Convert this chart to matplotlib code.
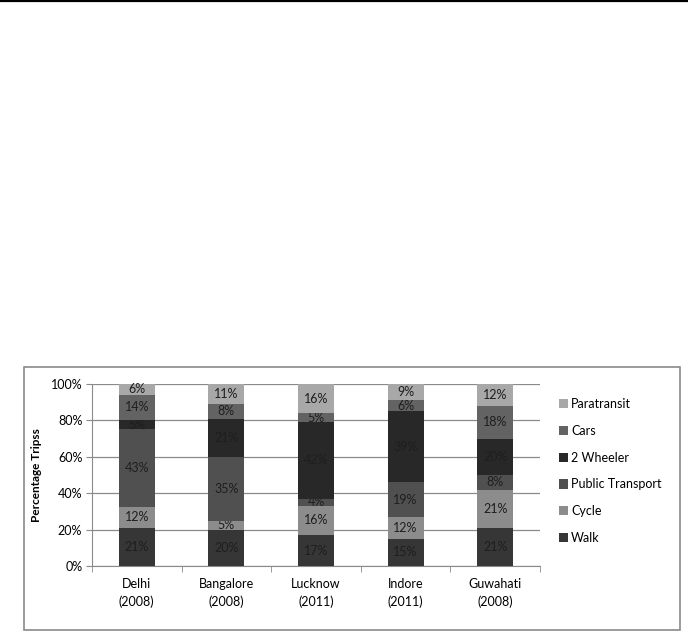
import numpy as np
import matplotlib
matplotlib.use("Agg")
import matplotlib.pyplot as plt
from matplotlib.patches import Rectangle
from matplotlib.lines import Line2D

plt.rcParams['font.family'] = ['Lato', 'DejaVu Sans']

# Data
cities = ['Delhi\n(2008)', 'Bangalore\n(2008)', 'Lucknow\n(2011)', 'Indore\n(2011)', 'Guwahati\n(2008)']
modes = ['Walk', 'Cycle', 'Public Transport', '2 Wheeler', 'Cars', 'Paratransit']
walk = [21, 20, 17, 15, 21]
cycle = [12, 5, 16, 12, 21]
public_transport = [43, 35, 4, 19, 8]
two_wheeler = [5, 21, 42, 39, 20]
cars = [14, 8, 5, 6, 18]
paratransit = [6, 11, 16, 9, 12]
colors = ['#363636', '#8c8c8c', '#505050', '#282828', '#636363', '#a8a8a8']

series = [walk, cycle, public_transport, two_wheeler, cars, paratransit]
vals = np.array(series, dtype=float)
shares = vals / vals.sum(axis=0) * 100  # 100% stacked, like the original

fig = plt.figure(figsize=(6.88, 6.38), dpi=100)

# page rule on top and chart frame
fig.add_artist(Line2D([0, 1], [0.9992, 0.9992], transform=fig.transFigure, color='black', lw=1.6))
fig.add_artist(Rectangle((24 / 688, 8 / 638), 656 / 688, 263 / 638, transform=fig.transFigure,
                         fill=False, edgecolor='#8a8a8a', lw=1.2))

ax = fig.add_axes([92 / 688, 72 / 638, 448 / 688, 182 / 638])
x = np.arange(len(cities))
bottom = np.zeros(len(cities))
handles = []
for i, mode in enumerate(modes):
    bars = ax.bar(x, shares[i], 0.4, bottom=bottom, color=colors[i], label=mode, zorder=3)
    ax.bar_label(bars, labels=['%d%%' % v for v in series[i]], label_type='center',
                 fontsize=9, color='#1e1e1e')
    bottom += shares[i]
    handles.append(bars)

ax.set_xlim(-0.5, len(cities) - 0.5)
ax.set_ylim(0, 100)
ax.set_yticks(range(0, 101, 20))
ax.set_yticklabels(['%d%%' % t for t in range(0, 101, 20)], fontsize=9)
ax.yaxis.grid(True, color='#8a8a8a', lw=0.9, zorder=0)
ax.set_xticks(x)
ax.set_xticklabels(cities, fontsize=9, linespacing=1.45)
ax.set_xticks(np.arange(-0.5, len(cities)), minor=True)
ax.tick_params(axis='x', which='major', length=0, pad=9)
ax.tick_params(axis='x', which='minor', length=4, color='#8a8a8a', direction='out')
ax.tick_params(axis='y', length=4, color='#8a8a8a', direction='out', pad=3)
for s in ['top', 'right']:
    ax.spines[s].set_visible(False)
for s in ['left', 'bottom']:
    ax.spines[s].set_color('#8a8a8a')
ax.set_ylabel('Percentage Tripss', fontsize=8.5, fontweight='bold', labelpad=6)

leg = fig.legend(handles[::-1], modes[::-1], loc='center left',
                 bbox_to_anchor=(559 / 688, 167 / 638), bbox_transform=fig.transFigure,
                 frameon=False, fontsize=9, handlelength=0.75, handleheight=0.75,
                 handletextpad=0.2, labelspacing=1.18, borderpad=0, borderaxespad=0)

fig.savefig('out.png', dpi=100)
